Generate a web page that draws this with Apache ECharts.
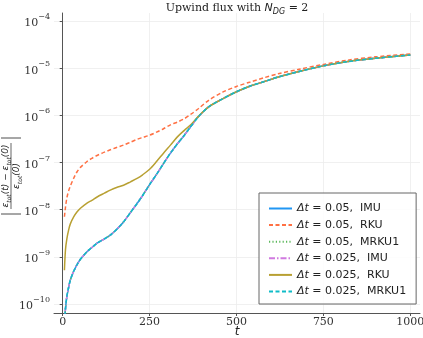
<!DOCTYPE html>
<html><head><meta charset="utf-8">
<script src="https://cdn.jsdelivr.net/npm/echarts@6/dist/echarts.min.js"></script>
<style>html,body{margin:0;padding:0;background:#fff}#c{width:423px;height:338px}</style>
</head><body><div id="c"></div>
<script>
// time samples (t)
var tVals = [5, 8, 12, 17, 22, 32, 41, 51, 70, 84, 99, 120, 137, 155, 175, 195, 214, 230, 250, 270, 290, 310, 330, 350, 370, 390, 420, 460, 500, 540, 580, 620, 680, 750, 820, 900, 1000];
// relative energy error values
var imu005 = [4.0e-11, 7.9e-11, 1.45e-10, 2.24e-10, 3.24e-10, 5.0e-10, 6.8e-10, 8.9e-10, 1.29e-9, 1.58e-9, 1.95e-9, 2.4e-9, 2.9e-9, 3.8e-9, 5.5e-9, 8.7e-9, 1.35e-8, 2.0e-8, 3.4e-8, 5.6e-8, 9.5e-8, 1.58e-7, 2.5e-7, 3.8e-7, 6.0e-7, 9.3e-7, 1.51e-6, 2.24e-6, 3.16e-6, 4.2e-6, 5.2e-6, 6.5e-6, 8.5e-6, 1.12e-5, 1.38e-5, 1.62e-5, 1.91e-5];
var rku005 = [7.1e-9, 1.12e-8, 1.78e-8, 2.5e-8, 3.16e-8, 4.7e-8, 6.3e-8, 7.9e-8, 1.05e-7, 1.23e-7, 1.41e-7, 1.66e-7, 1.86e-7, 2.09e-7, 2.34e-7, 2.7e-7, 3.1e-7, 3.4e-7, 3.8e-7, 4.4e-7, 5.2e-7, 6.3e-7, 7.2e-7, 8.5e-7, 1.07e-6, 1.38e-6, 2.09e-6, 3.1e-6, 4.1e-6, 5.1e-6, 6.3e-6, 7.6e-6, 9.5e-6, 1.2e-5, 1.48e-5, 1.74e-5, 2.0e-5];
var mrku1005 = [4.0e-11, 7.9e-11, 1.45e-10, 2.24e-10, 3.24e-10, 5.0e-10, 6.8e-10, 8.9e-10, 1.29e-9, 1.58e-9, 1.95e-9, 2.4e-9, 2.9e-9, 3.8e-9, 5.5e-9, 8.7e-9, 1.35e-8, 2.0e-8, 3.4e-8, 5.6e-8, 9.5e-8, 1.58e-7, 2.5e-7, 3.8e-7, 6.0e-7, 9.3e-7, 1.51e-6, 2.24e-6, 3.16e-6, 4.2e-6, 5.2e-6, 6.5e-6, 8.5e-6, 1.12e-5, 1.38e-5, 1.62e-5, 1.91e-5];
var imu0025 = [4.0e-11, 7.9e-11, 1.45e-10, 2.24e-10, 3.24e-10, 5.0e-10, 6.8e-10, 8.9e-10, 1.29e-9, 1.58e-9, 1.95e-9, 2.4e-9, 2.9e-9, 3.8e-9, 5.5e-9, 8.7e-9, 1.35e-8, 2.0e-8, 3.4e-8, 5.6e-8, 9.5e-8, 1.58e-7, 2.5e-7, 3.8e-7, 6.0e-7, 9.3e-7, 1.51e-6, 2.24e-6, 3.16e-6, 4.2e-6, 5.2e-6, 6.5e-6, 8.5e-6, 1.12e-5, 1.38e-5, 1.62e-5, 1.91e-5];
var rku0025 = [5.2e-10, 1.41e-9, 2.4e-9, 3.7e-9, 5.0e-9, 7.1e-9, 8.9e-9, 1.07e-8, 1.38e-8, 1.58e-8, 1.86e-8, 2.24e-8, 2.6e-8, 2.95e-8, 3.3e-8, 3.9e-8, 4.6e-8, 5.5e-8, 7.2e-8, 1.05e-7, 1.58e-7, 2.34e-7, 3.5e-7, 4.8e-7, 6.5e-7, 9.5e-7, 1.51e-6, 2.24e-6, 3.16e-6, 4.2e-6, 5.2e-6, 6.5e-6, 8.5e-6, 1.12e-5, 1.38e-5, 1.62e-5, 1.91e-5];
var mrku10025 = [4.0e-11, 7.9e-11, 1.45e-10, 2.24e-10, 3.24e-10, 5.0e-10, 6.8e-10, 8.9e-10, 1.29e-9, 1.58e-9, 1.95e-9, 2.4e-9, 2.9e-9, 3.8e-9, 5.5e-9, 8.7e-9, 1.35e-8, 2.0e-8, 3.4e-8, 5.6e-8, 9.5e-8, 1.58e-7, 2.5e-7, 3.8e-7, 6.0e-7, 9.3e-7, 1.51e-6, 2.24e-6, 3.16e-6, 4.2e-6, 5.2e-6, 6.5e-6, 8.5e-6, 1.12e-5, 1.38e-5, 1.62e-5, 1.91e-5];
var seriesNames = ['Δt = 0.05,  IMU', 'Δt = 0.05,  RKU', 'Δt = 0.05,  MRKU1', 'Δt = 0.025,  IMU', 'Δt = 0.025,  RKU', 'Δt = 0.025,  MRKU1'];
var xTicks = [0, 250, 500, 750, 1000];
var yTickExps = [-10, -9, -8, -7, -6, -5, -4];

var allData = [imu005, rku005, mrku1005, imu0025, rku0025, mrku10025];
var colors = ['#2196f3', '#ff7043', '#5cb85c', '#d07ae0', '#b8a032', '#10bcc8'];
var dashes = ['solid', [4, 2.5], [1.2, 2.2], [6, 2, 1.5, 2], 'solid', [4, 2.5]];

function pairs(arr) {
  return arr.map(function (v, i) { return [tVals[i], Math.log10(v)]; });
}

var series = allData.map(function (arr, i) {
  return {
    name: seriesNames[i], type: 'line', data: pairs(arr), showSymbol: false, symbol: 'none',
    smooth: 0.3, clip: true, z: 2 + i,
    lineStyle: { color: colors[i], width: 1.5, type: dashes[i] },
    itemStyle: { color: colors[i] }
  };
});

var chart = echarts.init(document.getElementById('c'), null, { renderer: 'canvas' });
var serif = 'DejaVu Serif';
chart.setOption({
  animation: false,
  backgroundColor: '#fff',
  title: {
    text: '{a|Upwind flux with }{n|N}{s|DG}{a| = 2}',
    left: 237, top: 0, textAlign: 'center', padding: 0,
    textStyle: {
      fontWeight: 'normal',
      rich: {
        a: { fontFamily: serif, fontWeight: 'normal', fontSize: 11, color: '#222', lineHeight: 14, verticalAlign: 'bottom' },
        n: { fontFamily: 'DejaVu Sans', fontWeight: 'normal', fontStyle: 'italic', fontSize: 11, color: '#222', lineHeight: 14, verticalAlign: 'bottom' },
        s: { fontFamily: 'DejaVu Sans', fontWeight: 'normal', fontStyle: 'italic', fontSize: 8, color: '#222', lineHeight: 14, verticalAlign: 'bottom', padding: [0, 0, -2, 0] }
      }
    }
  },
  grid: { left: 54, right: 3, top: 13, bottom: 25, containLabel: false, outerBoundsMode: 'none' },
  xAxis: {
    type: 'value', min: -25, max: 1028,
    axisLine: { lineStyle: { color: '#555', width: 1 } },
    axisTick: { show: true, length: 3, lineStyle: { color: '#555' }, customValues: xTicks },
    axisLabel: { customValues: xTicks, fontFamily: serif, fontSize: 11, color: '#333', margin: 4,
      formatter: function (v) { return String(Math.round(v)); } },
    splitLine: { show: true, lineStyle: { color: '#ececec', width: 0.8 } }
  },
  yAxis: {
    type: 'value', min: -10.19, max: -3.83,
    axisLine: { show: true, lineStyle: { color: '#555', width: 1 } },
    axisTick: { show: true, length: 3, lineStyle: { color: '#555' }, customValues: yTickExps },
    axisLabel: {
      customValues: yTickExps, margin: 4,
      formatter: function (v) { return '{b|10}{p|' + String(Math.round(v)).replace('-', '−') + '}'; },
      rich: {
        b: { fontFamily: serif, fontSize: 11, color: '#333', lineHeight: 16, verticalAlign: 'bottom' },
        p: { fontFamily: serif, fontSize: 8, color: '#333', lineHeight: 16, verticalAlign: 'top' }
      }
    },
    splitLine: { show: true, lineStyle: { color: '#ececec', width: 0.8 } }
  },
  legend: {
    orient: 'vertical', left: 259, top: 193,
    data: seriesNames,
    itemWidth: 23, itemHeight: 12, itemGap: 5.6,
    padding: [10, 10, 7, 9],
    borderColor: '#666', borderWidth: 1, borderRadius: 0,
    backgroundColor: 'rgba(255,255,255,0.85)',
    itemStyle: { opacity: 0 },
    formatter: function (name) { return '{i|Δt}{r|' + name.slice(2) + '}'; },
    textStyle: {
      rich: {
        i: { fontFamily: 'DejaVu Sans', fontStyle: 'italic', fontSize: 11, color: '#222' },
        r: { fontFamily: 'DejaVu Sans', fontSize: 11, color: '#222' }
      }
    }
  },
  graphic: [{
    type: 'text', x: 237, y: 332, style: { text: 't', fontFamily: 'DejaVu Sans', fontStyle: 'italic', fontSize: 12, fill: '#222', align: 'center', verticalAlign: 'middle' }
  }, {
    type: 'group', x: 11, y: 176, rotation: Math.PI / 2,
    children: [
      { type: 'text', x: 0, y: -5, style: {
          text: '{e|ε}{s|tot}{p|(t) − }{e|ε}{s|tot}{p|(0)}', align: 'center', verticalAlign: 'middle',
          rich: {
            e: { fontFamily: 'DejaVu Sans', fontStyle: 'italic', fontSize: 9, fill: '#222', verticalAlign: 'bottom' },
            s: { fontFamily: 'DejaVu Sans', fontStyle: 'italic', fontSize: 6, fill: '#222', verticalAlign: 'bottom', padding: [0, 0, -2, 0] },
            p: { fontFamily: 'DejaVu Sans', fontStyle: 'italic', fontSize: 9, fill: '#222', verticalAlign: 'bottom' }
          } } },
      { type: 'line', shape: { x1: -33, y1: 0, x2: 33, y2: 0 }, style: { stroke: '#222', lineWidth: 0.7 } },
      { type: 'text', x: 0, y: 5.5, style: {
          text: '{e|ε}{s|tot}{p|(0)}', align: 'center', verticalAlign: 'middle',
          rich: {
            e: { fontFamily: 'DejaVu Sans', fontStyle: 'italic', fontSize: 9, fill: '#222', verticalAlign: 'bottom' },
            s: { fontFamily: 'DejaVu Sans', fontStyle: 'italic', fontSize: 6, fill: '#222', verticalAlign: 'bottom', padding: [0, 0, -2, 0] },
            p: { fontFamily: 'DejaVu Sans', fontStyle: 'italic', fontSize: 9, fill: '#222', verticalAlign: 'bottom' }
          } } },
      { type: 'line', shape: { x1: -38, y1: -10, x2: -38, y2: 10 }, style: { stroke: '#222', lineWidth: 0.8 } },
      { type: 'line', shape: { x1: 38, y1: -10, x2: 38, y2: 10 }, style: { stroke: '#222', lineWidth: 0.8 } }
    ]
  }],
  series: series
});
</script>
</body></html>
